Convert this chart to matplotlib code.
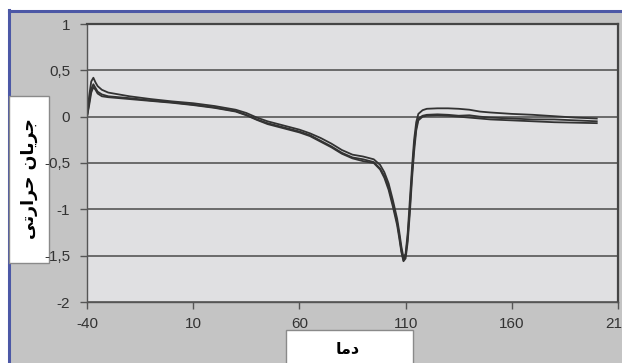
import matplotlib
matplotlib.use("Agg")
import matplotlib.pyplot as plt  # noqa: E402
from matplotlib.patches import Rectangle  # noqa: E402
from matplotlib.ticker import FuncFormatter  # noqa: E402

# temperature axis (shared by the three runs)
dama = [-40, -39, -38, -37, -36, -35, -33, -30, -25, -20,
        -10, 0, 10, 20, 30, 35, 40, 45, 50, 55,
        60, 65, 70, 75, 80, 85, 90, 95, 98, 100,
        102, 104, 106, 107, 108, 109, 110, 111, 112, 113,
        114, 115, 116, 118, 120, 125, 130, 135, 140, 145,
        150, 160, 170, 180, 190, 200]

run1 = [0.00, 0.22, 0.38, 0.42, 0.37, 0.33, 0.29, 0.26, 0.24, 0.22,
        0.19, 0.165, 0.145, 0.115, 0.075, 0.04, -0.01, -0.05, -0.08, -0.11,
        -0.14, -0.18, -0.23, -0.29, -0.36, -0.41, -0.43, -0.46, -0.52, -0.60,
        -0.72, -0.90, -1.10, -1.24, -1.40, -1.52, -1.48, -1.25, -0.90, -0.55,
        -0.25, -0.06, 0.03, 0.07, 0.085, 0.09, 0.09, 0.085, 0.075, 0.055,
        0.045, 0.03, 0.02, 0.005, -0.01, -0.02]

run2 = [0.00, 0.15, 0.30, 0.35, 0.31, 0.27, 0.24, 0.22, 0.21, 0.20,
        0.175, 0.155, 0.13, 0.10, 0.06, 0.02, -0.03, -0.07, -0.10, -0.13,
        -0.16, -0.20, -0.26, -0.32, -0.39, -0.44, -0.46, -0.49, -0.56, -0.64,
        -0.76, -0.94, -1.14, -1.28, -1.44, -1.55, -1.50, -1.30, -0.98, -0.62,
        -0.32, -0.12, -0.02, 0.01, 0.02, 0.025, 0.02, 0.01, 0.015, 0.00,
        -0.01, -0.02, -0.03, -0.03, -0.04, -0.05]

run3 = [0.00, 0.12, 0.26, 0.32, 0.29, 0.25, 0.22, 0.21, 0.20, 0.19,
        0.17, 0.15, 0.125, 0.095, 0.055, 0.015, -0.035, -0.08, -0.11, -0.14,
        -0.17, -0.21, -0.27, -0.33, -0.40, -0.45, -0.48, -0.50, -0.57, -0.66,
        -0.79, -0.97, -1.17, -1.31, -1.46, -1.56, -1.53, -1.35, -1.04, -0.68,
        -0.38, -0.15, -0.04, 0.00, 0.01, 0.015, 0.01, 0.00, -0.01, -0.02,
        -0.03, -0.04, -0.05, -0.06, -0.065, -0.07]

xticks = [-40, 10, 60, 110, 160, 210]
yticks = [1, 0.5, 0, -0.5, -1, -1.5, -2]

# Persian labels, written in shaped presentation forms (visual order)
ylabel = "\uFBFD\uFE97\uFEAD\uFE8D\uFEAE\uFEA3 \uFEE5\uFE8E\uFBFE\uFEAE\uFE9F"  # جریان حرارتی
xlabel = "\uFE8E\uFEE3\uFEA9"  # دما

W, H = 622, 363
fig = plt.figure(figsize=(W / 100, H / 100), dpi=100, facecolor="white")


def px(x, y):
    return x / W, 1 - y / H


# gray chart area with blue top/left frame
fig.patches.append(Rectangle(px(9, 363), (W - 9) / W, (363 - 11) / H,
                             transform=fig.transFigure, facecolor="#c4c4c4",
                             edgecolor="none", zorder=-2))
fig.add_artist(plt.Line2D([9 / W, 1], [1 - 10.5 / H] * 2, color="#4c58a6", lw=2.2, zorder=-1))
fig.add_artist(plt.Line2D([8.5 / W] * 2, [0, 1 - 10 / H], color="#4c58a6", lw=2.2, zorder=-1))

# white title boxes (under the axes so tick labels stay visible)
fig.patches.append(Rectangle(px(9, 263), 40 / W, 167 / H, transform=fig.transFigure,
                             facecolor="white", edgecolor="#8a8a8a", lw=1, zorder=0.2))
fig.patches.append(Rectangle(px(286, 364), 127 / W, 34 / H, transform=fig.transFigure,
                             facecolor="white", edgecolor="#8a8a8a", lw=1, zorder=0.2))
fig.text(*px(29, 179), ylabel, rotation=90, ha="center", va="center",
         fontsize=12.5, fontweight="bold", family=["DejaVu Sans"], zorder=0.5)
fig.text(*px(348, 349), xlabel, ha="center", va="center",
         fontsize=11.5, fontweight="bold", family=["DejaVu Sans"], zorder=0.5)

ax = fig.add_axes([87 / W, 1 - 302 / H, 531 / W, 278 / H])
ax.set_zorder(1)
ax.set_facecolor("#e0e0e2")

for y in (run1, run2, run3):
    ax.plot(dama, y, color="#333333", lw=1.3)

ax.set_xlim(-40, 210)
ax.set_ylim(-2, 1)
ax.set_xticks(xticks)
ax.set_yticks(yticks)
ax.yaxis.set_major_formatter(FuncFormatter(lambda v, p: f"{v:g}".replace(".", ",")))
ax.xaxis.set_major_formatter(FuncFormatter(lambda v, p: f"{v:g}"))
ax.grid(axis="y", color="#4a4a4a", lw=1.1)
ax.set_axisbelow(True)
ax.tick_params(labelsize=11, labelcolor="#333333", color="#555555",
               length=5, width=1, direction="out")
ax.tick_params(axis="y", pad=7)
ax.tick_params(axis="x", pad=6)
for s in ("left", "bottom"):
    ax.spines[s].set_color("#555555")
    ax.spines[s].set_linewidth(1)
for s in ("top", "right"):
    ax.spines[s].set_color("#454545")
    ax.spines[s].set_linewidth(1.6)
for lab in ax.get_xticklabels() + ax.get_yticklabels():
    lab.set_fontfamily(["Liberation Sans", "DejaVu Sans"])

fig.savefig("out.png", dpi=100, facecolor=fig.get_facecolor())
